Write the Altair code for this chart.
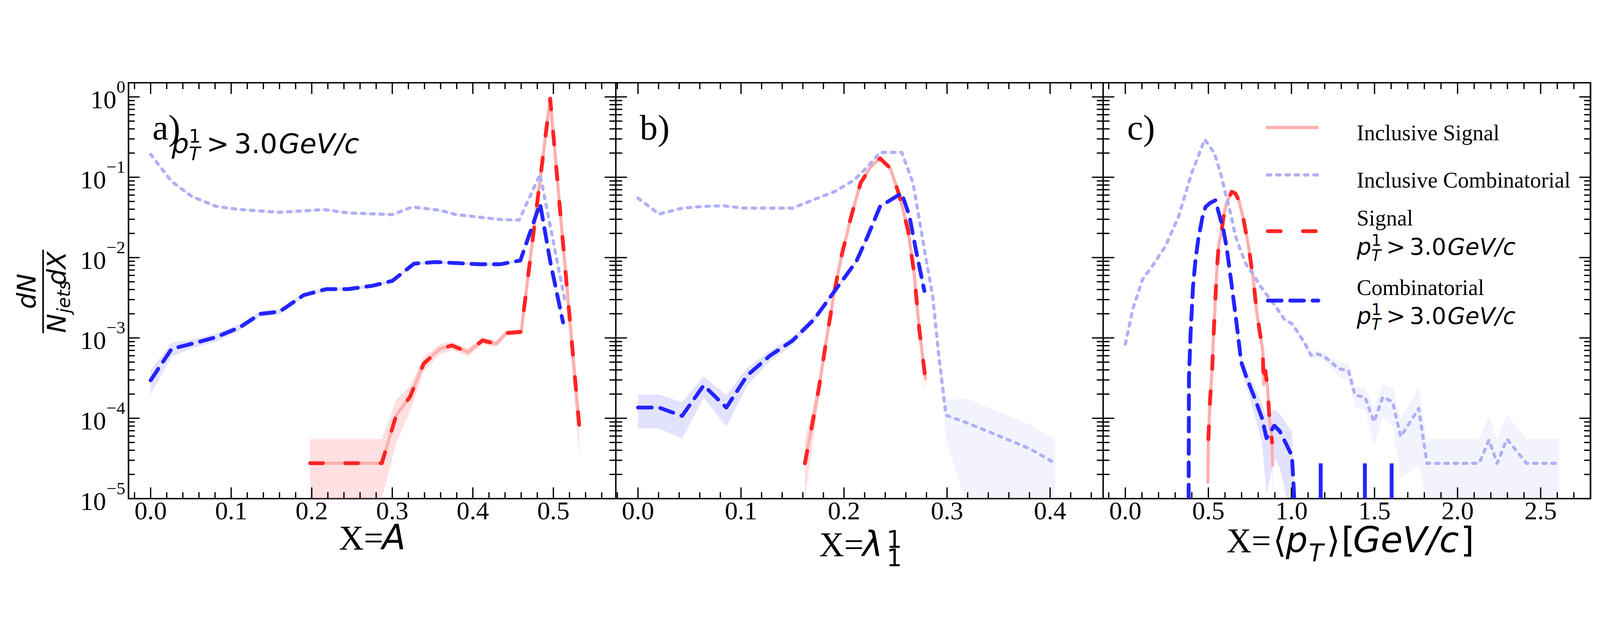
import altair as alt
import numpy as np
import pandas as pd

W, H = 1524, 1300          # one panel's plot area
YDOM = [1e-5, 1.5]
FLOOR = 1e-5               # empty bins are drawn on the lower edge of the axis

SERIF = "Liberation Serif"
SANS = "DejaVu Sans"
C_ISIG = "#ffb0b0"
C_ICOMB = "#b0b0f5"
C_SIG = "#ff2424"
C_COMB = "#2424ff"

# ---------------- y axis ----------------
y_major = [1e-5, 1e-4, 1e-3, 1e-2, 1e-1, 1.0]
y_exponents = ["\u22125", "\u22124", "\u22123", "\u22122", "\u22121", "0"]
y_minor = [m * 10.0 ** k for k in range(-5, 0) for m in range(2, 10)]

# ---------------- panel a : X = A ----------------
a_xdom = [-0.0275, 0.5775]
a_xmaj = [0.0, 0.1, 0.2, 0.3, 0.4, 0.5]
a_xlab = ["0.0", "0.1", "0.2", "0.3", "0.4", "0.5"]
a_xmin = [-0.02, 0.02, 0.04, 0.06, 0.08, 0.12, 0.14, 0.16, 0.18, 0.22, 0.24, 0.26,
          0.28, 0.32, 0.34, 0.36, 0.38, 0.42, 0.44, 0.46, 0.48, 0.52, 0.54, 0.56]

a_icomb_x = [0.0, 0.026, 0.051, 0.081, 0.111, 0.160, 0.215, 0.245, 0.300, 0.325, 0.359,
             0.379, 0.409, 0.434, 0.4575, 0.4835, 0.514]
a_icomb_y = [0.193, 0.0887, 0.0578, 0.0435, 0.0396, 0.0366, 0.0396, 0.0360, 0.0343, 0.0427, 0.0388,
             0.0343, 0.0318, 0.0298, 0.0293, 0.109, 3.0e-3]
a_icomb_err = [0.04] * 15 + [0.05, 0.15]

a_comb_x = [0.0, 0.026, 0.051, 0.081, 0.111, 0.136, 0.160, 0.190, 0.218, 0.245, 0.275, 0.300,
            0.327, 0.354, 0.384, 0.409, 0.434, 0.459, 0.4835, 0.4965, 0.512]
a_comb_y = [2.97e-4, 7.3e-4, 8.45e-4, 1.02e-3, 1.36e-3, 1.99e-3, 2.12e-3, 3.41e-3, 4.05e-3, 4.05e-3,
            4.45e-3, 5.13e-3, 8.4e-3, 8.8e-3, 8.5e-3, 8.26e-3, 8.26e-3, 9.2e-3, 0.047, 8.5e-3,
            1.56e-3]
a_comb_err = [0.33, 0.2, 0.12, 0.12, 0.1, 0.08, 0.08, 0.07, 0.06, 0.06, 0.05, 0.04, 0.04, 0.04,
              0.04, 0.04, 0.04, 0.03, 0.03, 0.05, 0.15]

a_sig_x = [0.198, 0.287, 0.305, 0.322, 0.339, 0.359, 0.374, 0.394, 0.412, 0.429, 0.4415, 0.46,
           0.496, 0.532]
a_sig_y = [2.76e-5, 2.76e-5, 1.1e-4, 1.85e-4, 4.78e-4, 7.3e-4, 8.05e-4, 6.66e-4, 9.3e-4, 8.45e-4,
           1.15e-3, 1.19e-3, 0.95, 8.3e-5]
a_isig_x = a_sig_x
a_isig_y = [2.76e-5, 2.76e-5, 1.1e-4, 1.85e-4, 4.78e-4, 7.3e-4, 8.05e-4, 6.66e-4, 9.3e-4, 8.45e-4,
            1.15e-3, 1.19e-3, 0.95, 8.3e-5]
a_isig_err = [1.0, 1.0, 0.55, 0.35, 0.2, 0.15, 0.12, 0.12, 0.1, 0.1, 0.08, 0.08, 0.01, 0.6]

# ---------------- panel b : X = lambda_1^1 ----------------
b_xdom = [-0.0215, 0.4515]
b_xmaj = [0.0, 0.1, 0.2, 0.3, 0.4]
b_xlab = ["0.0", "0.1", "0.2", "0.3", "0.4"]
b_xmin = [-0.02, 0.02, 0.04, 0.06, 0.08, 0.12, 0.14, 0.16, 0.18, 0.22, 0.24, 0.26, 0.28,
          0.32, 0.34, 0.36, 0.38, 0.42, 0.44]

b_icomb_x = [0.0, 0.0204, 0.0434, 0.0623, 0.0827, 0.103, 0.128, 0.150, 0.172, 0.191, 0.210, 0.223,
             0.235, 0.256, 0.267, 0.278, 0.286, 0.292, 0.299, 0.317, 0.348, 0.380, 0.405]
b_icomb_y = [0.055, 0.0348, 0.0413, 0.0433, 0.0442, 0.0413, 0.0413, 0.0413, 0.0534, 0.0665, 0.0927,
             0.1355, 0.204, 0.204, 0.0844, 0.0126, 3.34e-3, 6.0e-4, 1.09e-4, 9.0e-5, 6.2e-5,
             4.2e-5, 2.75e-5]
b_icomb_err = [0.03] * 15 + [0.05, 0.1, 0.2, 0.5, 1.0, 1.0, 1.0, 1.0]

b_comb_x = [0.0, 0.0204, 0.0428, 0.0638, 0.0858, 0.106, 0.128, 0.150, 0.171, 0.191, 0.212, 0.223,
            0.235, 0.256, 0.2635, 0.271, 0.278]
b_comb_y = [1.36e-4, 1.36e-4, 1.07e-4, 2.57e-4, 1.36e-4, 3.41e-4, 6.0e-4, 9.25e-4, 1.71e-3,
            3.85e-3, 9.0e-3, 0.0185, 0.0433, 0.0634, 0.0327, 0.0104, 3.85e-3]
b_comb_err = [0.45, 0.45, 0.48, 0.3, 0.42, 0.25, 0.15, 0.12, 0.1, 0.07, 0.05, 0.04, 0.03, 0.03,
              0.04, 0.05, 0.08]

b_sig_x = [0.162, 0.169, 0.1755, 0.183, 0.191, 0.1975, 0.207, 0.216, 0.226, 0.235, 0.245, 0.254,
           0.262, 0.268, 0.273, 0.279]
b_sig_y = [2.75e-5, 8.2e-5, 2.34e-4, 9.7e-4, 4.0e-3, 0.0104, 0.0327, 0.0844, 0.1355, 0.172, 0.129,
           0.0577, 0.0223, 6.5e-3, 1.29e-3, 3.1e-4]
b_isig_x = b_sig_x
b_isig_y = [2.75e-5, 8.2e-5, 2.34e-4, 9.7e-4, 4.0e-3, 0.0104, 0.0327, 0.0844, 0.1355, 0.172, 0.129,
            0.0577, 0.0223, 6.5e-3, 1.29e-3, 3.1e-4]
b_isig_err = [1.0, 0.5, 0.25, 0.12, 0.07, 0.05, 0.03, 0.02, 0.02, 0.02, 0.02, 0.03, 0.04, 0.06,
              0.12, 0.3]

# ---------------- panel c : X = <pT> ----------------
c_xdom = [-0.1335, 2.80]
c_xmaj = [0.0, 0.5, 1.0, 1.5, 2.0, 2.5]
c_xlab = ["0.0", "0.5", "1.0", "1.5", "2.0", "2.5"]
c_xmin = [-0.1, 0.1, 0.2, 0.3, 0.4, 0.6, 0.7, 0.8, 0.9, 1.1, 1.2, 1.3, 1.4, 1.6, 1.7, 1.8, 1.9,
          2.1, 2.2, 2.3, 2.4, 2.6, 2.7]

c_icomb_x = [0.0, 0.045, 0.104, 0.163, 0.242, 0.321, 0.399, 0.478, 0.537, 0.577, 0.61, 0.637,
             0.663, 0.697, 0.73, 0.77, 0.81, 0.85, 0.903, 0.957, 1.003, 1.023, 1.057, 1.09, 1.117,
             1.157, 1.197, 1.243, 1.284, 1.343, 1.383, 1.442, 1.497, 1.550, 1.609, 1.658, 1.766,
             1.816, 2.130, 2.189, 2.238, 2.297, 2.415, 2.612]
c_icomb_y = [8.4e-4, 2.28e-3, 5.37e-3, 7.85e-3, 0.0139, 0.0327, 0.112, 0.296, 0.198, 0.105, 0.0552,
             0.033, 0.0185, 0.0118, 8.0e-3, 6.2e-3, 4.5e-3, 3.47e-3, 2.5e-3, 1.71e-3, 1.5e-3,
             1.32e-3, 1.02e-3, 7.9e-4, 6.1e-4, 6.3e-4, 5.9e-4, 4.9e-4, 4.13e-4, 3.94e-4, 1.93e-4,
             1.84e-4, 9.0e-5, 1.84e-4, 1.6e-4, 5.9e-5, 1.32e-4, 2.75e-5, 2.75e-5, 5.36e-5, 2.75e-5,
             5.5e-5, 2.75e-5, 2.75e-5]
c_icomb_err = [0.04] * 20 + [0.05, 0.06, 0.08, 0.08, 0.1, 0.1, 0.12, 0.15, 0.2, 0.25, 0.3, 0.3,
                             0.5, 0.45, 0.5, 0.7, 0.8, 1.0, 1.0, 1.0, 1.0, 1.0, 1.0, 1.0]

c_comb_x = [0.381, 0.383, 0.393, 0.407, 0.423, 0.44, 0.463, 0.483, 0.51, 0.543, 0.56, 0.59, 0.61,
            0.637, 0.663, 0.683, 0.697, 0.73, 0.783, 0.823, 0.85, 0.897, 0.93, 0.97, 1.003, 1.017]
c_comb_y = [FLOOR, 3.2e-4, 1.16e-3, 4.2e-3, 9.7e-3, 0.0173, 0.031, 0.0427, 0.0478, 0.0517, 0.0376,
            0.0224, 0.0133, 5.1e-3, 1.95e-3, 9.0e-4, 5.06e-4, 3.2e-4, 1.69e-4, 1.0e-4, 5.65e-5,
            8.1e-5, 6.9e-5, 4.7e-5, 3.4e-5, FLOOR]
c_comb_err = [0.0, 0.3, 0.15, 0.08, 0.06, 0.05, 0.04, 0.03, 0.03, 0.03, 0.03, 0.04, 0.05, 0.07,
              0.1, 0.15, 0.2, 0.25, 0.4, 0.5, 0.8, 0.6, 0.65, 0.8, 1.0, 0.0]
c_comb_spike_x = [1.176, 1.442, 1.603]
c_comb_spike_y = [2.75e-5, 2.75e-5, 2.75e-5]

c_sig_x = [0.5, 0.51, 0.523, 0.53, 0.54, 0.55, 0.563, 0.577, 0.59, 0.61, 0.64, 0.663, 0.683, 0.71,
           0.743, 0.77, 0.79, 0.81, 0.827, 0.833, 0.843, 0.857, 0.867, 0.88, 0.883]
c_sig_y = [5.5e-5, 1.69e-4, 4.16e-4, 9.6e-4, 2.5e-3, 6.6e-3, 0.0151, 0.0197, 0.031, 0.0485, 0.0659,
           0.0627, 0.0516, 0.031, 0.0133, 5.4e-3, 2.2e-3, 1.16e-3, 7.0e-4, 2.65e-4, 3.9e-4, 2.33e-4,
           1.0e-4, 6.0e-5, 5.0e-5]
c_isig_x = [0.497, 0.5, 0.51, 0.523, 0.53, 0.54, 0.55, 0.563, 0.577, 0.59, 0.61, 0.64, 0.663, 0.683,
            0.71, 0.743, 0.77, 0.79, 0.81, 0.827, 0.833, 0.843, 0.857, 0.867, 0.88, 0.883, 0.887]
c_isig_y = [1.6e-5, 5.5e-5, 1.69e-4, 4.16e-4, 9.6e-4, 2.5e-3, 6.6e-3, 0.0151, 0.0197, 0.031, 0.0485,
            0.0659, 0.0627, 0.0516, 0.031, 0.0133, 5.4e-3, 2.2e-3, 1.16e-3, 7.0e-4, 2.65e-4, 3.9e-4,
            2.33e-4, 1.0e-4, 6.0e-5, 5.0e-5, 2.6e-5]
c_isig_err = [1.0, 0.6, 0.3, 0.15, 0.1, 0.06, 0.05, 0.04, 0.03, 0.02, 0.02, 0.02, 0.02, 0.02, 0.02,
              0.03, 0.04, 0.06, 0.08, 0.1, 0.15, 0.15, 0.2, 0.3, 0.45, 0.6, 1.0]

legend_labels = ["Inclusive Signal", "Inclusive Combinatorial", "Signal", "Combinatorial"]
panel_tags = ["a)", "b)", "c)"]

ONE = pd.DataFrame({"k": [0]})


def sdf(x, y, err=None):
    d = pd.DataFrame({"x": x, "y": y})
    if err is not None:
        yy = np.array(y, dtype=float)
        e = np.array(err, dtype=float)
        d["lo"] = np.maximum(yy * (1 - e), FLOOR)
        d["hi"] = np.minimum(yy * (1 + e), YDOM[1])
    return d


def XE(dom, k):
    return alt.X("x:Q", scale=alt.Scale(domain=dom, range=[k * W, (k + 1) * W], nice=False,
                                        zero=False), axis=None)


def YE(field="y"):
    return alt.Y(f"{field}:Q", scale=alt.Scale(type="log", domain=YDOM, nice=False), axis=None)


def txt(s, x, y, size, font=SANS, italic=False, angle=None, align="left"):
    kw = dict(text=s, font=font, fontSize=size, align=align, baseline="alphabetic", color="black")
    if italic:
        kw["fontStyle"] = "italic"
    if angle is not None:
        kw["angle"] = angle
    return alt.Chart(ONE).mark_text(**kw).encode(x=alt.value(x), y=alt.value(y))


def pt_text(x0, base, s):
    return [
        txt("p", x0, base, s, italic=True),
        txt("1", x0 + 0.635 * s, base - 0.39 * s, 0.68 * s),
        txt("T", x0 + 0.635 * s, base + 0.26 * s, 0.68 * s, italic=True),
        txt(">", x0 + 1.28 * s, base, s),
        txt("3.0", x0 + 2.30 * s, base, s),
        txt("GeV/c", x0 + 3.94 * s, base, s, italic=True),
    ]


DASH_ICOMB = [10, 19]
DASH_SIG = [40, 70]
DASH_COMB = [43, 27]


def band(d, color, op, dom, k):
    return alt.Chart(d).mark_area(color=color, opacity=op, clip=True).encode(
        x=XE(dom, k), y=YE("lo"), y2=alt.Y2("hi:Q"))


def line(d, color, width, dash, dom, k):
    kw = dict(color=color, strokeWidth=width, clip=True, strokeCap="round", strokeJoin="round")
    if dash:
        kw["strokeDash"] = dash
    return alt.Chart(d).mark_line(**kw).encode(x=XE(dom, k), y=YE())


def ticks(dom, xmaj, xlab, xmin, k):
    xm = pd.DataFrame({"x": xmaj, "t": xlab})
    xn = pd.DataFrame({"x": [v for v in xmin if dom[0] < v < dom[1]]})
    ym = pd.DataFrame({"y": y_major})
    yn = pd.DataFrame({"y": y_minor})
    r = dict(color="black", strokeWidth=4)
    L, S = 35, 20
    x0, x1 = k * W, (k + 1) * W
    return [
        alt.Chart(xm).mark_rule(**r).encode(x=XE(dom, k), y=alt.value(H), y2=alt.value(H - L)),
        alt.Chart(xn).mark_rule(**r).encode(x=XE(dom, k), y=alt.value(H), y2=alt.value(H - S)),
        alt.Chart(xm).mark_rule(**r).encode(x=XE(dom, k), y=alt.value(0), y2=alt.value(L)),
        alt.Chart(xn).mark_rule(**r).encode(x=XE(dom, k), y=alt.value(0), y2=alt.value(S)),
        alt.Chart(ym).mark_rule(**r).encode(y=YE(), x=alt.value(x0), x2=alt.value(x0 + L)),
        alt.Chart(yn).mark_rule(**r).encode(y=YE(), x=alt.value(x0), x2=alt.value(x0 + S)),
        alt.Chart(ym).mark_rule(**r).encode(y=YE(), x=alt.value(x1), x2=alt.value(x1 - L)),
        alt.Chart(yn).mark_rule(**r).encode(y=YE(), x=alt.value(x1), x2=alt.value(x1 - S)),
        # panel frame (left edge)
        alt.Chart(ONE).mark_rule(color="black", strokeWidth=4.5).encode(
            x=alt.value(x0), y=alt.value(0), y2=alt.value(H)),
        # x tick labels
        alt.Chart(xm).mark_text(font=SERIF, fontSize=81, align="center", baseline="alphabetic",
                                color="black").encode(x=XE(dom, k), y=alt.value(H + 65), text="t:N"),
    ]


def panel(k, dom, xmaj, xlab, xmin, isig, icomb, sig, comb, extra):
    layers = [
        band(isig, "#ff8080", 0.25, dom, k),
        band(icomb, C_ICOMB, 0.15, dom, k),
        band(comb, "#6060ff", 0.18, dom, k),
        line(isig, C_ISIG, 10, None, dom, k),
        line(icomb, C_ICOMB, 10, DASH_ICOMB, dom, k),
        line(sig, C_SIG, 12, DASH_SIG, dom, k),
        line(comb, C_COMB, 12, DASH_COMB, dom, k),
    ]
    layers += ticks(dom, xmaj, xlab, xmin, k)
    layers += extra
    return layers


# ---- panel a extras: y labels, y title, annotations ----
ylab = pd.DataFrame({"y": y_major, "e": y_exponents})
a_extra = [
    alt.Chart(ylab).transform_filter("datum.y < 0.5").mark_text(
        text="10", font=SERIF, fontSize=81, align="right", baseline="alphabetic", dy=35,
        color="black").encode(y=YE(), x=alt.value(-70)),
    alt.Chart(ylab).transform_filter("datum.y > 0.5").mark_text(
        text="10", font=SERIF, fontSize=81, align="right", baseline="alphabetic", dy=35,
        color="black").encode(y=YE(), x=alt.value(-38)),
    alt.Chart(ylab).mark_text(font=SERIF, fontSize=55, align="right", baseline="alphabetic",
                              dy=-14, color="black").encode(y=YE(), x=alt.value(-10), text="e:N"),
    # y title: dN / (N_jets dX)
    txt("dN", -290, 652, 80, italic=True, angle=270, align="center"),
    alt.Chart(ONE).mark_rule(color="black", strokeWidth=5).encode(
        x=alt.value(-267), y=alt.value(522), y2=alt.value(783)),
    txt("N", -197, 782, 80, italic=True, angle=270),
    txt("jets", -183, 720, 56, italic=True, angle=270),
    txt("dX", -197, 633, 80, italic=True, angle=270),
    txt(panel_tags[0], 75, 177, 112, font=SERIF),
    # x title
    txt("X=", 658, 1459, 108, font=SERIF),
    txt("A", 793, 1459, 108, italic=True),
] + pt_text(135, 220, 85)

ob = W
b_extra = [
    txt(panel_tags[1], ob + 75, 177, 112, font=SERIF),
    txt("X=", ob + 636, 1480, 108, font=SERIF),
    txt("\u03bb", ob + 771, 1480, 108, italic=True),
    txt("1", ob + 847, 1454, 75),
    txt("1", ob + 847, 1511, 75),
]

oc = 2 * W
leg_x0, leg_x1, leg_tx = oc + 509, oc + 673, oc + 793
c_extra = [
    txt(panel_tags[2], oc + 75, 177, 112, font=SERIF),
    txt("X=", oc + 386, 1467, 108, font=SERIF),
    txt("\u27e8", oc + 531, 1467, 108),
    txt("p", oc + 571, 1467, 108, italic=True),
    txt("T", oc + 643, 1495, 75, italic=True),
    txt("\u27e9", oc + 699, 1467, 108),
    txt("[", oc + 745, 1467, 108),
    txt("GeV/c", oc + 781, 1467, 112, italic=True),
    txt("]", oc + 1118, 1467, 108),
    # combinatorial single-entry bins
    alt.Chart(pd.DataFrame({"x": c_comb_spike_x, "y": c_comb_spike_y})).mark_rule(
        color=C_COMB, strokeWidth=12, clip=True).encode(x=XE(c_xdom, 2), y=YE(), y2=alt.value(H)),
    # right frame edge
    alt.Chart(ONE).mark_rule(color="black", strokeWidth=4.5).encode(
        x=alt.value(3 * W), y=alt.value(0), y2=alt.value(H)),
    # legend
    alt.Chart(ONE).mark_rule(color=C_ISIG, strokeWidth=10).encode(
        x=alt.value(leg_x0), x2=alt.value(leg_x1), y=alt.value(140)),
    alt.Chart(ONE).mark_rule(color=C_ICOMB, strokeWidth=10, strokeDash=DASH_ICOMB, strokeCap="round").encode(
        x=alt.value(leg_x0 + 5), x2=alt.value(leg_x1), y=alt.value(288)),
    alt.Chart(ONE).mark_rule(color=C_SIG, strokeWidth=12, strokeDash=DASH_SIG, strokeCap="round").encode(
        x=alt.value(leg_x0 + 6), x2=alt.value(leg_x1), y=alt.value(464)),
    alt.Chart(ONE).mark_rule(color=C_COMB, strokeWidth=12, strokeDash=DASH_COMB, strokeCap="round").encode(
        x=alt.value(leg_x0 + 6), x2=alt.value(leg_x1), y=alt.value(681)),
    txt(legend_labels[0], leg_tx, 180, 69, font=SERIF),
    txt(legend_labels[1], leg_tx, 328, 69, font=SERIF),
    txt(legend_labels[2], leg_tx, 446, 69, font=SERIF),
    txt(legend_labels[3], leg_tx, 663, 69, font=SERIF),
] + pt_text(leg_tx, 538, 72) + pt_text(leg_tx, 754, 72)

layers = []
layers += panel(0, a_xdom, a_xmaj, a_xlab, a_xmin, sdf(a_isig_x, a_isig_y, a_isig_err),
                sdf(a_icomb_x, a_icomb_y, a_icomb_err), sdf(a_sig_x, a_sig_y),
                sdf(a_comb_x, a_comb_y, a_comb_err), a_extra)
layers += panel(1, b_xdom, b_xmaj, b_xlab, b_xmin, sdf(b_isig_x, b_isig_y, b_isig_err),
                sdf(b_icomb_x, b_icomb_y, b_icomb_err), sdf(b_sig_x, b_sig_y),
                sdf(b_comb_x, b_comb_y, b_comb_err), b_extra)
layers += panel(2, c_xdom, c_xmaj, c_xlab, c_xmin, sdf(c_isig_x, c_isig_y, c_isig_err),
                sdf(c_icomb_x, c_icomb_y, c_icomb_err), sdf(c_sig_x, c_sig_y),
                sdf(c_comb_x, c_comb_y, c_comb_err), c_extra)

chart = alt.layer(*layers).resolve_scale(x="independent").properties(
    width=3 * W, height=H,
    autosize=alt.AutoSizeParams(type="none"),
    padding={"left": 392, "top": 72, "right": 20, "bottom": 225},
    background="white",
).configure_view(stroke="black", strokeWidth=4.5)

chart.save("out.html", embed_options={"renderer": "svg", "actions": False})
